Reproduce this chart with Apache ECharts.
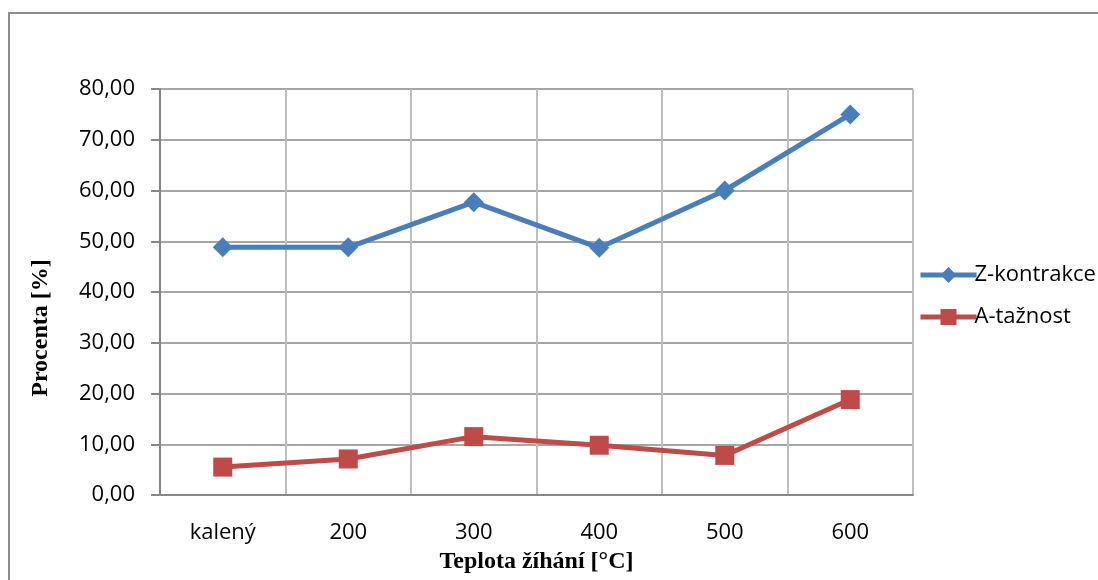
<!DOCTYPE html>
<html>
<head>
<meta charset="utf-8">
<script src="https://cdn.jsdelivr.net/npm/echarts@6/dist/echarts.min.js"></script>
<style>
  html, body { margin: 0; padding: 0; background: #fff; overflow: hidden; }
  #frame { position: absolute; left: 8px; top: 12px; width: 1200px; height: 700px; border: 2px solid #8c8c8c; box-sizing: border-box; }
  #chart { position: absolute; left: 0; top: 0; width: 1098px; height: 580px; }
</style>
</head>
<body>
<div id="frame"></div>
<div id="chart"></div>
<script>
// Annealing temperatures and measured properties
const categories = ['kalený', '200', '300', '400', '500', '600'];
const zKontrakce = [48.8, 48.8, 57.7, 48.7, 60.0, 75.0];
const aTaznost = [5.5, 7.1, 11.5, 9.8, 7.8, 18.8];
const seriesNames = ['Z-kontrakce', 'A-tažnost'];

const labelFont = '"Open Sans", "Liberation Sans", sans-serif';
const titleFont = '"Liberation Serif", "Times New Roman", serif';

const chart = echarts.init(document.getElementById('chart'), null, { renderer: 'canvas' });
chart.setOption({
  backgroundColor: 'transparent',
  animation: false,
  grid: { left: 160, right: 185, top: 89, bottom: 85 },
  legend: {
    orient: 'vertical',
    left: 913,
    top: 259,
    itemWidth: 56,
    itemHeight: 20,
    itemGap: 20,
    lineStyle: { width: 5 },
    textStyle: { fontFamily: labelFont, fontSize: 22, color: '#000', padding: [0, 0, 0, -7] },
    data: seriesNames
  },
  // vertical axis title, placed a little below the plot centre
  graphic: [{
    type: 'text',
    x: 41,
    y: 328,
    rotation: Math.PI / 2,
    style: {
      text: 'Procenta [%]',
      font: 'bold 24px ' + titleFont,
      fill: '#000',
      align: 'center',
      verticalAlign: 'middle'
    }
  }],
  xAxis: {
    type: 'category',
    data: categories,
    boundaryGap: true,
    name: 'Teplota žíhání [°C]',
    nameLocation: 'middle',
    nameGap: 55,
    nameTextStyle: { fontFamily: titleFont, fontWeight: 'bold', fontSize: 24, color: '#000' },
    axisLine: { lineStyle: { color: '#868686', width: 2 } },
    axisTick: { show: false },
    axisLabel: { fontFamily: labelFont, fontSize: 22, color: '#000', margin: 27 },
    splitLine: { show: true, lineStyle: { color: '#bfbfbf', width: 2 } }
  },
  yAxis: {
    type: 'value',
    min: 0,
    max: 80,
    interval: 10,
    axisLine: { show: true, lineStyle: { color: '#868686', width: 2 } },
    axisTick: { show: true, inside: false, length: 9, lineStyle: { color: '#868686', width: 2 } },
    axisLabel: {
      fontFamily: labelFont, fontSize: 22, color: '#000', margin: 25,
      formatter: v => v.toFixed(2).replace('.', ',')
    },
    splitLine: { show: true, lineStyle: { color: '#a6a6a6', width: 2 } }
  },
  series: [
    {
      name: seriesNames[0],
      type: 'line',
      data: zKontrakce,
      symbol: 'diamond',
      symbolSize: 20,
      lineStyle: { color: '#4a7ebb', width: 5 },
      itemStyle: { color: '#4a7ebb' },
      z: 3
    },
    {
      name: seriesNames[1],
      type: 'line',
      data: aTaznost,
      symbol: 'rect',
      symbolSize: 19,
      lineStyle: { color: '#be4b48', width: 5 },
      itemStyle: { color: '#be4b48' },
      z: 3
    }
  ]
});
</script>
</body>
</html>
